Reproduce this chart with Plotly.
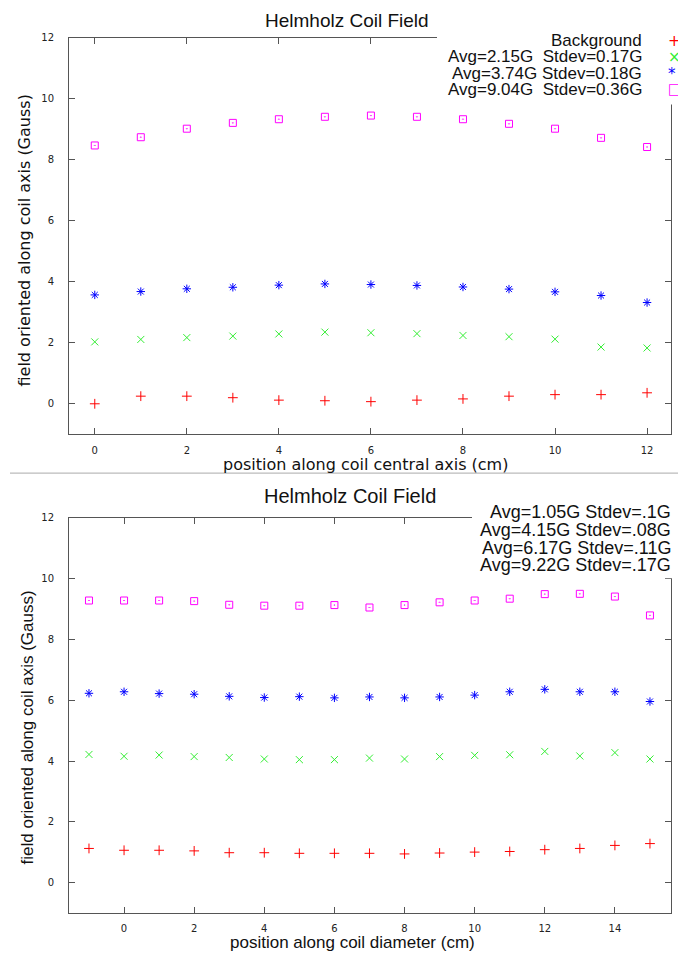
import plotly.graph_objects as go

W, H = 678, 953

# ---------------- data ----------------
pos_axis = [0, 1, 2, 3, 4, 5, 6, 7, 8, 9, 10, 11, 12]
top_background = [0.00, 0.25, 0.25, 0.20, 0.12, 0.10, 0.07, 0.12, 0.16, 0.25, 0.30, 0.30, 0.36]
top_avg215 = [2.03, 2.11, 2.17, 2.22, 2.29, 2.35, 2.33, 2.30, 2.24, 2.20, 2.12, 1.86, 1.83]
top_avg374 = [3.57, 3.68, 3.77, 3.82, 3.89, 3.93, 3.91, 3.88, 3.83, 3.76, 3.67, 3.55, 3.32]
top_avg904 = [8.47, 8.74, 9.02, 9.21, 9.33, 9.41, 9.45, 9.41, 9.33, 9.18, 9.02, 8.72, 8.42]
top_labels = ["Background", "Avg=2.15G  Stdev=0.17G", "Avg=3.74G Stdev=0.18G", "Avg=9.04G  Stdev=0.36G"]

pos_diam = [-1, 0, 1, 2, 3, 4, 5, 6, 7, 8, 9, 10, 11, 12, 13, 14, 15]
bot_avg105 = [1.13, 1.07, 1.07, 1.05, 0.99, 0.99, 0.97, 0.97, 0.97, 0.95, 0.98, 1.01, 1.03, 1.09, 1.13, 1.23, 1.29]
bot_avg415 = [4.22, 4.16, 4.20, 4.15, 4.12, 4.07, 4.05, 4.05, 4.10, 4.07, 4.15, 4.19, 4.21, 4.32, 4.17, 4.28, 4.07]
bot_avg617 = [6.23, 6.28, 6.22, 6.20, 6.13, 6.09, 6.12, 6.08, 6.11, 6.08, 6.11, 6.17, 6.28, 6.36, 6.28, 6.28, 5.96]
bot_avg922 = [9.28, 9.28, 9.28, 9.26, 9.14, 9.11, 9.11, 9.13, 9.05, 9.13, 9.22, 9.28, 9.34, 9.49, 9.50, 9.41, 8.79]
bot_labels = ["Avg=1.05G Stdev=.1G", "Avg=4.15G Stdev=.08G", "Avg=6.17G Stdev=.11G", "Avg=9.22G Stdev=.17G"]

x_ticks_top = [0, 2, 4, 6, 8, 10, 12]
x_ticks_bot = [0, 2, 4, 6, 8, 10, 12, 14]
y_ticks = [0, 2, 4, 6, 8, 10, 12]

colors = ["#ff0000", "#33ee33", "#0000ff", "#ff00ff"]
symbols = ["cross-thin-open", "x-thin-open", "asterisk-open", "square-open-dot"]
sizes = [7, 7, 7, 7]
legend_glyphs = ["+", "×", "*", "□"]


def fx(px):
    return px / W


def fy(py):
    return 1 - py / H


fig = go.Figure()

top_series = [top_background, top_avg215, top_avg374, top_avg904]
for i, ys in enumerate(top_series):
    fig.add_trace(go.Scatter(
        x=pos_axis, y=ys, mode="markers", xaxis="x", yaxis="y",
        name=top_labels[i], showlegend=False,
        marker=dict(symbol=symbols[i], size=sizes[i], color=colors[i],
                    line=dict(color=colors[i], width=1)),
    ))

bot_series = [bot_avg105, bot_avg415, bot_avg617, bot_avg922]
for i, ys in enumerate(bot_series):
    fig.add_trace(go.Scatter(
        x=pos_diam, y=ys, mode="markers", xaxis="x2", yaxis="y2",
        name=bot_labels[i], showlegend=False,
        marker=dict(symbol=symbols[i], size=sizes[i], color=colors[i],
                    line=dict(color=colors[i], width=1)),
    ))

tickfont = dict(family="DejaVu Sans", size=10, color="#222")
axis_common = dict(showgrid=False, zeroline=False, showline=True, linecolor="#555",
                   linewidth=1, mirror="ticks", ticks="inside", ticklen=6,
                   tickcolor="#555", tickfont=tickfont)

fig.update_layout(
    width=W, height=H, autosize=False,
    margin=dict(l=0, r=0, t=0, b=0),
    paper_bgcolor="white", plot_bgcolor="white",
    showlegend=False,
    xaxis=dict(domain=[fx(69), fx(671)], range=[-0.56, 12.52], tickvals=x_ticks_top,
               anchor="y", ticklabelstandoff=7, **axis_common),
    yaxis=dict(domain=[fy(431), fy(32)], range=[-1, 12], tickvals=y_ticks,
               anchor="x", ticklabelstandoff=12, **axis_common),
    xaxis2=dict(domain=[fx(69), fx(671)], range=[-1.57, 15.6], tickvals=x_ticks_bot,
                anchor="y2", ticklabelstandoff=6, **axis_common),
    yaxis2=dict(domain=[fy(913), fy(515)], range=[-1, 12], tickvals=y_ticks,
                anchor="x2", ticklabelstandoff=12, **axis_common),
)

shapes = [
    # white legend boxes covering frame
    dict(type="rect", xref="paper", yref="paper", x0=fx(437), x1=1.0, y0=fy(99), y1=fy(22),
         fillcolor="white", line=dict(width=0), layer="above"),
    dict(type="rect", xref="paper", yref="paper", x0=fx(472), x1=1.0, y0=fy(576), y1=fy(500),
         fillcolor="white", line=dict(width=0), layer="above"),
    # separator
    dict(type="line", xref="paper", yref="paper", x0=fx(10), x1=1.0, y0=fy(470), y1=fy(470),
         line=dict(color="#bbbbbb", width=1.2), layer="above"),
]
fig.update_layout(shapes=shapes)


def text_ann(text, px, py, size, family="Liberation Sans", xanchor="center", angle=0, color="#111"):
    return dict(text=text, x=fx(px), y=fy(py), xref="paper", yref="paper",
                xanchor=xanchor, yanchor="middle", showarrow=False, textangle=angle,
                font=dict(family=family, size=size, color=color))


ann = []
ann.append(text_ann("Helmholz Coil Field", 347, 15, 19))
ann.append(text_ann("Helmholz Coil Field", 350, 493, 20))
ann.append(text_ann("position along coil central axis (cm)", 366, 461, 16, family="DejaVu Sans"))
ann.append(text_ann("field oriented along coil axis (Gauss)", 25, 236, 16, family="DejaVu Sans", angle=-90))
ann.append(text_ann("position along coil diameter (cm)", 352, 942, 17))
ann.append(text_ann("field oriented along coil axis (Gauss)", 27, 726, 17, angle=-90))

top_rows = [35, 51, 68, 84]
for i, lab in enumerate(top_labels):
    ann.append(text_ann(lab, 644, top_rows[i], 17, xanchor="right"))
    ann.append(text_ann(legend_glyphs[i], 666, top_rows[i], 15, family="DejaVu Sans",
                        xanchor="left", color=colors[i]))

bot_rows = [509, 527, 545, 563]
for i, lab in enumerate(bot_labels):
    ann.append(text_ann(lab, 673, bot_rows[i], 18, xanchor="right"))

fig.update_layout(annotations=ann)

fig.write_html("out.html", config={"displayModeBar": False},
               post_script="document.body.style.margin='0';document.body.style.overflow='hidden';")
